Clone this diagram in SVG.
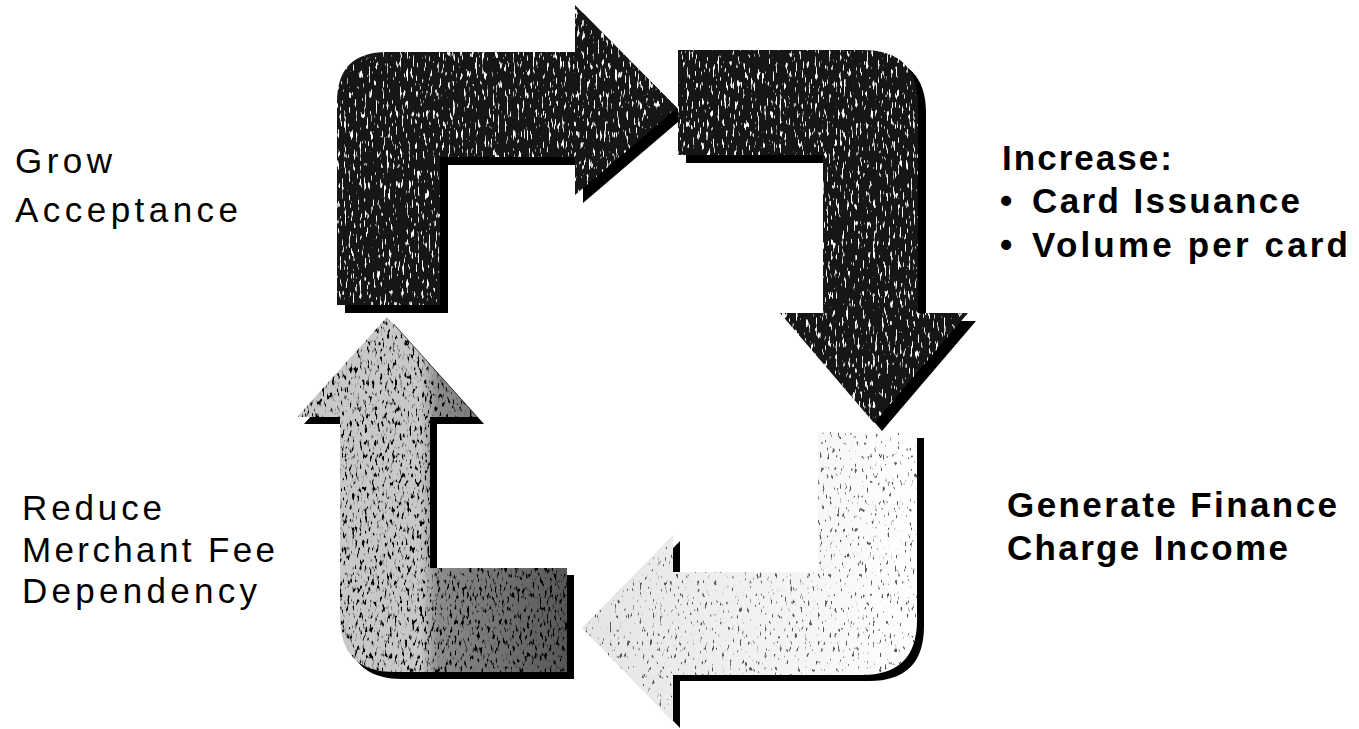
<svg xmlns="http://www.w3.org/2000/svg" width="1359" height="729" viewBox="0 0 1359 729">
  <style>
    .lbl { font-family: "Liberation Sans", Arial, sans-serif; font-size: 35px; fill: #000; }
    .b { font-weight: bold; }
    .shadow { fill: #000; }
    .dark { fill: #161616; }
  </style>
  <defs>
    <filter id="grainW" x="0" y="0" width="100%" height="100%">
      <feTurbulence type="fractalNoise" baseFrequency="0.45 0.1" numOctaves="2" seed="3" result="n"/>
      <feColorMatrix in="n" type="matrix" values="0 0 0 0 1  0 0 0 0 1  0 0 0 0 1  10 0 0 0 -6.3" result="w"/>
      <feComposite in="w" in2="SourceAlpha" operator="in" result="wi"/>
      <feMerge><feMergeNode in="SourceGraphic"/><feMergeNode in="wi"/></feMerge>
    </filter>
    <filter id="grainB" x="0" y="0" width="100%" height="100%">
      <feTurbulence type="fractalNoise" baseFrequency="0.4 0.15" numOctaves="2" seed="7" result="n"/>
      <feColorMatrix in="n" type="matrix" values="0 0 0 0 0  0 0 0 0 0  0 0 0 0 0  7 0 0 0 -3.8" result="k"/>
      <feComposite in="k" in2="SourceAlpha" operator="in" result="ki"/>
      <feMerge><feMergeNode in="SourceGraphic"/><feMergeNode in="ki"/></feMerge>
    </filter>
    <filter id="grainL" x="0" y="0" width="100%" height="100%">
      <feTurbulence type="fractalNoise" baseFrequency="0.4 0.15" numOctaves="2" seed="11" result="n"/>
      <feColorMatrix in="n" type="matrix" values="0 0 0 0 0.1  0 0 0 0 0.1  0 0 0 0 0.1  10 0 0 0 -6.5" result="k"/>
      <feComposite in="k" in2="SourceAlpha" operator="in" result="ki"/>
      <feMerge><feMergeNode in="SourceGraphic"/><feMergeNode in="ki"/></feMerge>
    </filter>
    <linearGradient id="gBL" gradientUnits="userSpaceOnUse" x1="420" y1="0" x2="570" y2="0">
      <stop offset="0" stop-color="#c8c8c8"/>
      <stop offset="0.12" stop-color="#8c8c8c"/>
      <stop offset="1" stop-color="#555555"/>
    </linearGradient>
    <linearGradient id="gBR" gradientUnits="userSpaceOnUse" x1="582" y1="0" x2="918" y2="0">
      <stop offset="0" stop-color="#e4e4e4"/>
      <stop offset="0.7" stop-color="#f6f6f6"/>
      <stop offset="1" stop-color="#ffffff"/>
    </linearGradient>
  </defs>
  <rect width="1359" height="729" fill="#fff"/>

  <g id="connectors">
    <g id="arrow-top-left">
      <path class="shadow" transform="translate(8,8)" d="M337,305 L337,102 Q337,52 387,52 L575,52 L575,5 L677,108 L575,195 L575,157 L440,157 L440,305 Z"/>
      <path class="dark" filter="url(#grainW)" d="M337,305 L337,102 Q337,52 387,52 L575,52 L575,5 L677,108 L575,195 L575,157 L440,157 L440,305 Z"/>
    </g>
    <g id="arrow-top-right">
      <path class="shadow" transform="translate(8,8)" d="M678,50 L863,50 Q918,50 918,105 L918,313 L968,313 L874,423 L780,313 L823,313 L823,155 L678,155 Z"/>
      <path class="dark" filter="url(#grainW)" d="M678,50 L863,50 Q918,50 918,105 L918,313 L968,313 L874,423 L780,313 L823,313 L823,155 L678,155 Z"/>
    </g>
    <g id="arrow-bottom-right">
      <path class="shadow" transform="translate(7,6)" d="M818,432 L917,432 L917,620 Q917,675 862,675 L673,675 L673,722 L582,628 L673,535 L673,572 L818,572 Z"/>
      <path fill="url(#gBR)" filter="url(#grainL)" d="M818,432 L917,432 L917,620 Q917,675 862,675 L673,675 L673,722 L582,628 L673,535 L673,572 L818,572 Z"/>
    </g>
    <g id="arrow-bottom-left">
      <path class="shadow" transform="translate(7,7)" d="M567,568 L567,672 L395,672 Q340,672 340,617 L340,417 L297,417 L387,317 L477,417 L430,417 L430,568 Z"/>
      <path fill="url(#gBL)" filter="url(#grainB)" d="M567,568 L567,672 L395,672 Q340,672 340,617 L340,417 L297,417 L387,317 L477,417 L430,417 L430,568 Z"/>
    </g>
  </g>

  <g id="label-grow-acceptance">
    <text class="lbl" x="15" y="173" textLength="97" lengthAdjust="spacing">Grow</text>
    <text class="lbl" x="15" y="222" textLength="223" lengthAdjust="spacing">Acceptance</text>
  </g>
  <g id="label-increase">
    <text class="lbl b" x="1002" y="170" textLength="170" lengthAdjust="spacing">Increase:</text>
    <text class="lbl b" x="1000" y="213">•</text>
    <text class="lbl b" x="1032" y="213" textLength="268" lengthAdjust="spacing">Card Issuance</text>
    <text class="lbl b" x="1000" y="257">•</text>
    <text class="lbl b" x="1032" y="257" textLength="316" lengthAdjust="spacing">Volume per card</text>
  </g>
  <g id="label-generate-finance">
    <text class="lbl b" x="1007" y="517" textLength="330" lengthAdjust="spacing">Generate Finance</text>
    <text class="lbl b" x="1007" y="560" textLength="281" lengthAdjust="spacing">Charge Income</text>
  </g>
  <g id="label-reduce-merchant">
    <text class="lbl" x="22" y="520" textLength="140" lengthAdjust="spacing">Reduce</text>
    <text class="lbl" x="22" y="562" textLength="253" lengthAdjust="spacing">Merchant Fee</text>
    <text class="lbl" x="22" y="603" textLength="235" lengthAdjust="spacing">Dependency</text>
  </g>
</svg>
